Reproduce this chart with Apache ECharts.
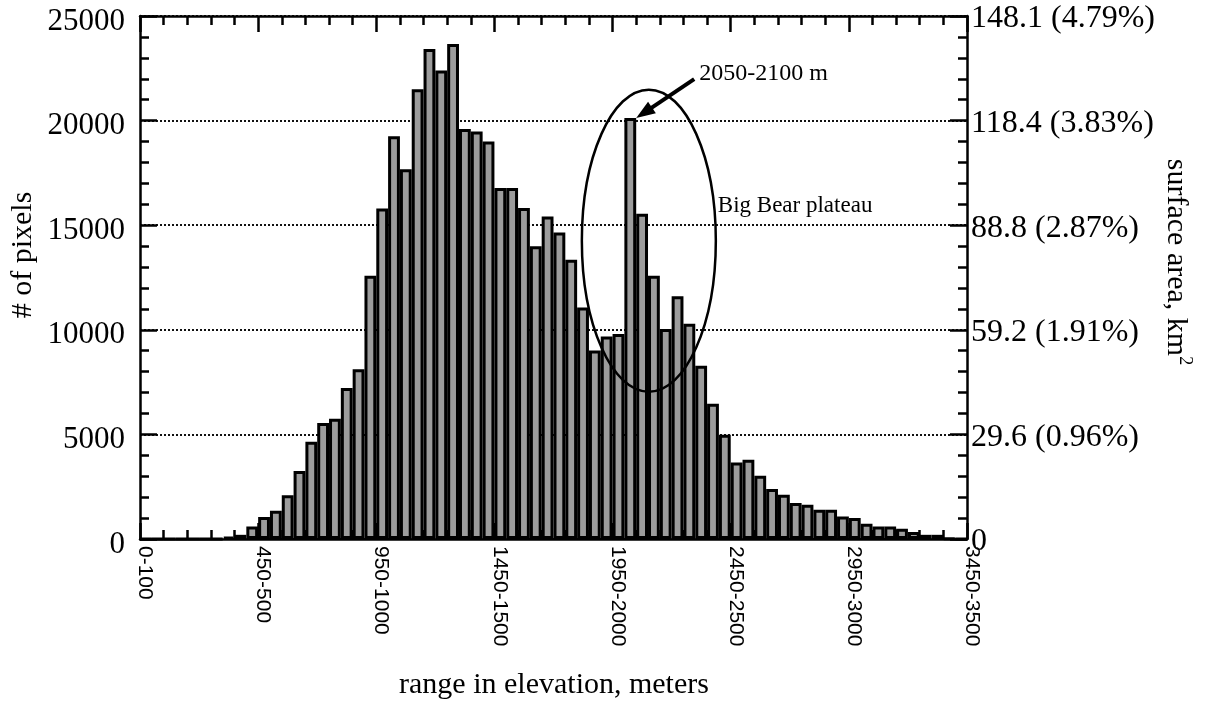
<!DOCTYPE html>
<html>
<head>
<meta charset="utf-8">
<title>Elevation histogram</title>
<script src="https://cdn.jsdelivr.net/npm/echarts@6/dist/echarts.min.js"></script>
<style>
  html, body { margin: 0; padding: 0; background: #fff; }
  #chart { width: 1209px; height: 708px; }
</style>
</head>
<body>
<div id="chart"></div>
<script>
// 50 m elevation bins
const binLabels = [
  '0-50', '50-100', '100-150', '150-200', '200-250', '250-300', '300-350', '350-400', '400-450', '450-500',
  '500-550', '550-600', '600-650', '650-700', '700-750', '750-800', '800-850', '850-900', '900-950', '950-1000',
  '1000-1050', '1050-1100', '1100-1150', '1150-1200', '1200-1250', '1250-1300', '1300-1350', '1350-1400', '1400-1450', '1450-1500',
  '1500-1550', '1550-1600', '1600-1650', '1650-1700', '1700-1750', '1750-1800', '1800-1850', '1850-1900', '1900-1950', '1950-2000',
  '2000-2050', '2050-2100', '2100-2150', '2150-2200', '2200-2250', '2250-2300', '2300-2350', '2350-2400', '2400-2450', '2450-2500',
  '2500-2550', '2550-2600', '2600-2650', '2650-2700', '2700-2750', '2750-2800', '2800-2850', '2850-2900', '2900-2950', '2950-3000',
  '3000-3050', '3050-3100', '3100-3150', '3150-3200', '3200-3250', '3250-3300', '3300-3350', '3350-3400', '3400-3450', '3450-3500'
];

// # of pixels per bin
const pixelCounts = [
  0, 0, 0, 0, 0, 0, 0, 100, 200, 600,
  1050, 1350, 2090, 3250, 4650, 5550, 5750, 7220, 8120, 12580,
  15800, 19250, 17680, 21500, 23420, 22400, 23660, 19600, 19480, 19000,
  16780, 16780, 15820, 13990, 15420, 14650, 13350, 11070, 9010, 9680,
  9800, 20120, 15550, 12580, 10040, 11600, 10290, 8280, 6470, 4980,
  3660, 3790, 3020, 2390, 2120, 1720, 1640, 1400, 1400, 1080,
  1000, 730, 600, 600, 490, 330, 200, 200, 30, 0
];

// bottom tick labels, one per 500 m
const xTickLabels = ['0-100', '450-500', '950-1000', '1450-1500', '1950-2000', '2450-2500', '2950-3000', '3450-3500'];
// right axis labels, one per 5000 pixels
const rightTickLabels = ['0', '29.6 (0.96%)', '59.2 (1.91%)', '88.8 (2.87%)', '118.4 (3.83%)', '148.1 (4.79%)'];

const peakBin = 41; // 2050-2100 m

const serif = '"Liberation Serif", "Times New Roman", serif';
const sans = '"Liberation Sans", Arial, sans-serif';
const ink = { color: '#000', width: 2.5 };

const chart = echarts.init(document.getElementById('chart'));

// elevation axis (meters); major ticks every 500 m
const meterAxis = (pos, label) => ({
  type: 'value',
  position: pos,
  min: 0,
  max: 3500,
  interval: 500,
  axisLine: { show: true, onZero: false, lineStyle: ink },
  axisTick: { show: true, inside: true, length: 16, lineStyle: ink },
  splitLine: { show: false },
  axisLabel: label || { show: false }
});
// small ticks every 100 m
const meterMinor = (pos) => ({
  type: 'value',
  position: pos,
  min: 0,
  max: 3500,
  interval: 100,
  axisLine: { show: false, onZero: false },
  axisTick: { show: true, inside: true, length: 9, lineStyle: ink },
  splitLine: { show: false },
  axisLabel: { show: false }
});
// small ticks every 1000 pixels
const countMinor = (pos) => ({
  type: 'value',
  position: pos,
  min: 0,
  max: 25000,
  interval: 1000,
  axisLine: { show: false, onZero: false },
  axisTick: { show: true, inside: true, length: 9, lineStyle: ink },
  splitLine: { show: false },
  axisLabel: { show: false }
});

const option = {
  animation: false,
  backgroundColor: '#fff',
  grid: { left: 140, right: 242, top: 16, bottom: 169, containLabel: false },
  xAxis: [
    // bars sit on this one
    { type: 'category', data: binLabels, position: 'bottom', show: false, axisLine: { onZero: false } },
    meterAxis('bottom', {
      show: true,
      rotate: -90,
      margin: 7,
      color: '#000',
      showMinLabel: true,
      showMaxLabel: true,
      formatter: (v) => '{t|' + xTickLabels[Math.round(v / 500)] + '}',
      rich: { t: { fontFamily: sans, fontSize: 21, color: '#000', padding: [0, 0, 10, 0] } }
    }),
    meterAxis('top'),
    meterMinor('bottom'),
    meterMinor('top')
  ],
  yAxis: [
    {
      type: 'value',
      position: 'left',
      min: 0,
      max: 25000,
      interval: 5000,
      axisLine: { show: true, onZero: false, lineStyle: ink },
      axisTick: { show: true, inside: true, length: 17, lineStyle: ink },
      splitLine: { show: true, lineStyle: { color: '#111', width: 2, type: [2, 2] } },
      axisLabel: {
        margin: 15,
        color: '#000',
        formatter: (v) => '{t|' + v + '}',
        rich: { t: { fontFamily: serif, fontSize: 31, color: '#000', padding: [11, 0, 0, 0] } }
      }
    },
    {
      type: 'value',
      position: 'right',
      min: 0,
      max: 25000,
      interval: 5000,
      axisLine: { show: true, onZero: false, lineStyle: ink },
      axisTick: { show: true, inside: true, length: 17, lineStyle: ink },
      splitLine: { show: false },
      axisLabel: {
        margin: 4,
        color: '#000',
        formatter: (v) => '{t|' + rightTickLabels[Math.round(v / 5000)] + '}',
        rich: { t: { fontFamily: serif, fontSize: 32, color: '#000', padding: [6, 0, 0, 0] } }
      }
    },
    countMinor('left'),
    countMinor('right')
  ],
  series: [
    {
      name: '# of pixels',
      type: 'bar',
      xAxisIndex: 0,
      yAxisIndex: 0,
      data: pixelCounts,
      barCategoryGap: '0%',
      itemStyle: { color: '#9c9c9c', borderColor: '#000', borderWidth: 3 }
    }
  ]
};

chart.setOption(option);

// annotations, placed through the axes
const px = (m) => chart.convertToPixel({ xAxisIndex: 1 }, m);
const py = (v) => chart.convertToPixel({ yAxisIndex: 0 }, v);

// ellipse round the Big Bear plateau bins (meters / pixel counts)
const ellipseM = [1870, 2437];
const ellipseV = [7040, 21480];
const ex0 = px(ellipseM[0]), ex1 = px(ellipseM[1]);
const ey0 = py(ellipseV[1]), ey1 = py(ellipseV[0]);

// arrow to the top right corner of the 2050-2100 m bar
const tipX = px(2100), tipY = py(pixelCounts[peakBin]);
const tailX = tipX + 58, tailY = tipY - 39;
const len = Math.hypot(tailX - tipX, tailY - tipY);
const ux = (tipX - tailX) / len, uy = (tipY - tailY) / len;
const bx = tipX - ux * 19, by = tipY - uy * 19;
const nx = -uy, ny = ux;

chart.setOption({
  graphic: [
    {
      type: 'ellipse',
      shape: { cx: (ex0 + ex1) / 2, cy: (ey0 + ey1) / 2, rx: (ex1 - ex0) / 2, ry: (ey1 - ey0) / 2 },
      style: { fill: 'none', stroke: '#000', lineWidth: 2.5 },
      z: 10
    },
    {
      type: 'line',
      shape: { x1: tailX, y1: tailY, x2: bx + ux * 2, y2: by + uy * 2 },
      style: { stroke: '#000', lineWidth: 4 },
      z: 10
    },
    {
      type: 'polygon',
      shape: { points: [[tipX, tipY], [bx + nx * 7, by + ny * 7], [bx - nx * 7, by - ny * 7]] },
      style: { fill: '#000' },
      z: 10
    },
    {
      type: 'text',
      x: tailX + 5,
      y: tailY - 5,
      style: { text: '2050-2100 m', font: '24px ' + serif, fill: '#000', align: 'left', verticalAlign: 'middle' },
      z: 10
    },
    {
      type: 'text',
      x: ex1 + 2,
      y: py(15900),
      style: { text: 'Big Bear plateau', font: '23px ' + serif, fill: '#000', align: 'left', verticalAlign: 'middle' },
      z: 10
    },
    // axis titles
    {
      type: 'text',
      x: 23,
      y: 255,
      rotation: Math.PI / 2,
      style: { text: '# of pixels', font: '30px ' + serif, fill: '#000', align: 'center', verticalAlign: 'middle' }
    },
    {
      type: 'text',
      x: 1176,
      y: 262,
      rotation: -Math.PI / 2,
      style: {
        text: 'surface area, km{sup|2}',
        font: '30px ' + serif,
        lineHeight: 36,
        fill: '#000',
        align: 'center',
        verticalAlign: 'middle',
        rich: { sup: { fontSize: 18, fontFamily: serif, verticalAlign: 'top', fill: '#000' } }
      }
    },
    {
      type: 'text',
      x: 554,
      y: 685,
      style: { text: 'range in elevation, meters', font: '30px ' + serif, fill: '#000', align: 'center', verticalAlign: 'middle' }
    }
  ]
});

window.addEventListener('resize', () => chart.resize());
</script>
</body>
</html>
